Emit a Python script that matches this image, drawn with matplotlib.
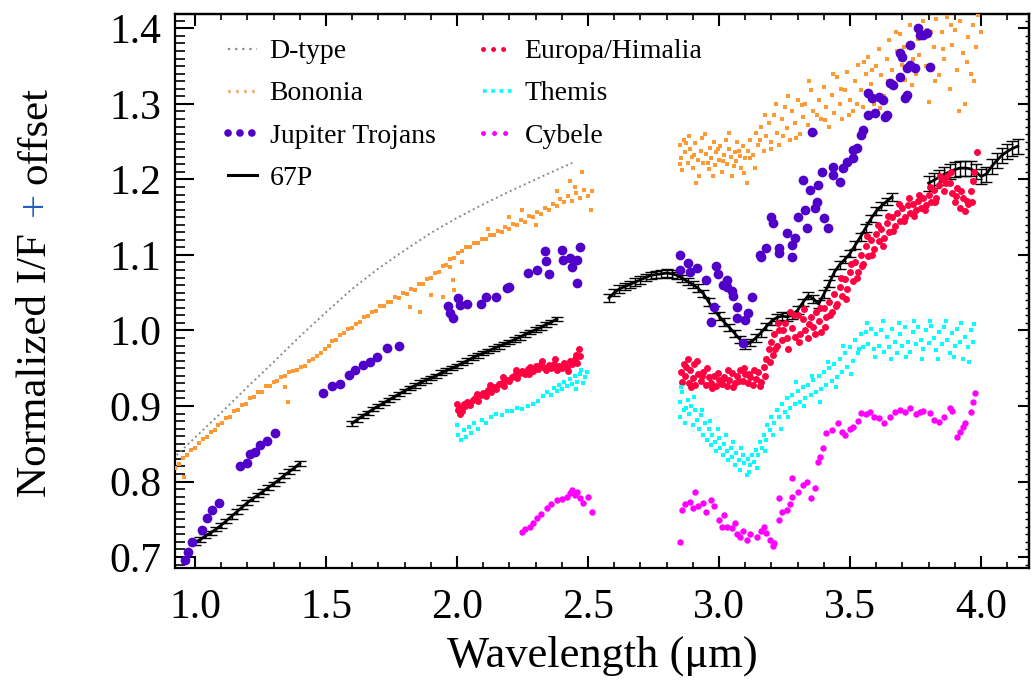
import matplotlib
matplotlib.use("Agg")
import matplotlib.pyplot as plt
from matplotlib.lines import Line2D
from matplotlib.ticker import MultipleLocator, FormatStrFormatter

plt.rcParams['font.family'] = ['Liberation Serif', 'DejaVu Serif']

# ---- data (wavelength in micron, I/F + offset) ----
dtype_wl = [0.93, 1.00, 1.10, 1.20, 1.30, 1.40, 1.50, 1.60, 1.70, 1.80, 1.90, 2.00, 2.10, 2.20, 2.30, 2.44]
dtype_val = [0.835, 0.858, 0.891, 0.925, 0.958, 0.992, 1.024, 1.055, 1.082, 1.106, 1.129, 1.149, 1.167, 1.184, 1.200, 1.222]

bononia_pts = [
    (0.925, .818), (0.940, .823), (0.955, .831), (0.970, .835), (0.985, .842), (1.000, .845), (1.015, .851),
    (1.030, .856), (1.045, .859), (1.060, .866), (1.075, .868), (1.090, .875), (1.105, .877), (1.120, .884),
    (1.135, .886), (1.150, .893), (1.165, .895), (1.180, .901), (1.195, .903), (1.210, .911), (1.225, .912),
    (1.240, .918), (1.255, .919), (1.270, .926), (1.285, .927), (1.300, .932), (1.315, .933), (1.330, .939),
    (1.345, .940), (1.360, .945), (1.375, .946), (1.390, .948), (1.405, .952), (1.420, .953), (1.435, .960),
    (1.450, .962), (1.465, .966), (1.480, .970), (1.495, .976), (1.510, .979), (1.525, .986), (1.540, .988),
    (1.555, .994), (1.570, .996), (1.585, 1.002), (1.600, 1.003), (1.615, 1.009), (1.630, 1.011), (1.645, 1.018),
    (1.660, 1.019), (1.675, 1.025), (1.690, 1.026), (1.705, 1.032), (1.720, 1.033), (1.735, 1.038), (1.750, 1.038),
    (1.765, 1.044), (1.780, 1.043), (1.795, 1.049), (1.810, 1.048), (1.825, 1.055), (1.840, 1.054), (1.855, 1.061),
    (1.870, 1.062), (1.885, 1.068), (1.900, 1.069), (1.915, 1.076), (1.930, 1.078), (1.945, 1.085), (1.960, 1.087),
    (1.975, 1.095), (1.990, 1.096), (2.005, 1.103), (2.020, 1.105), (2.035, 1.110), (2.050, 1.111), (2.065, 1.116),
    (2.080, 1.116), (2.095, 1.121), (2.110, 1.121), (2.125, 1.127), (2.140, 1.126), (2.155, 1.132), (2.170, 1.131),
    (2.185, 1.137), (2.200, 1.135), (2.215, 1.141), (2.230, 1.139), (2.245, 1.146), (2.260, 1.144), (2.275, 1.151),
    (2.290, 1.150), (2.305, 1.157), (2.320, 1.154), (2.335, 1.162), (2.350, 1.160), (2.365, 1.168), (2.380, 1.165),
    (2.395, 1.174), (2.410, 1.170), (2.425, 1.178), (2.440, 1.172), (2.455, 1.182), (2.470, 1.176), (2.485, 1.186),
    (2.500, 1.178), (2.515, 1.184),
    (0.960, .806), (1.343, .925), (1.355, .905), (1.820, 1.031), (1.860, 1.025), (1.900, 1.047), (1.947, 1.044),
    (1.985, 1.067), (1.973, 1.084), (1.990, 1.054), (2.477, 1.210), (2.510, 1.160), (2.430, 1.198), (2.450, 1.190),
    (2.380, 1.185), (2.200, 1.150), (2.300, 1.140), (2.120, 1.135), (2.020, 1.090), (2.250, 1.160),
    # long-wavelength part
    (2.850, 1.245), (2.855, 1.228), (2.860, 1.212), (2.865, 1.252), (2.870, 1.236), (2.880, 1.222), (2.885, 1.258),
    (2.890, 1.240), (2.900, 1.215), (2.905, 1.232), (2.910, 1.248), (2.920, 1.226), (2.925, 1.205), (2.930, 1.238),
    (2.940, 1.222), (2.945, 1.260), (2.950, 1.233), (2.960, 1.214), (2.965, 1.242), (2.970, 1.228), (2.980, 1.250),
    (2.985, 1.219), (2.990, 1.236), (3.000, 1.226), (3.005, 1.244), (3.010, 1.210), (3.020, 1.232), (3.025, 1.252),
    (3.030, 1.221), (3.040, 1.240), (3.045, 1.230), (3.050, 1.205), (3.060, 1.236), (3.065, 1.225), (3.070, 1.250),
    (3.080, 1.231), (3.085, 1.215), (3.090, 1.244), (3.100, 1.228), (3.105, 1.195), (3.110, 1.238), (3.120, 1.252),
    (3.130, 1.232), (3.140, 1.262), (3.150, 1.245), (3.160, 1.270), (3.170, 1.238), (3.180, 1.258), (3.190, 1.275),
    (3.200, 1.250), (3.210, 1.285), (3.220, 1.262), (3.230, 1.246), (3.240, 1.280), (3.250, 1.296), (3.260, 1.268),
    (3.270, 1.252), (3.280, 1.290), (3.290, 1.275), (3.300, 1.305), (3.310, 1.260), (3.320, 1.282), (3.330, 1.300),
    (3.340, 1.272), (3.350, 1.318), (3.360, 1.290), (3.370, 1.262), (3.380, 1.305), (3.390, 1.280), (3.400, 1.322),
    (3.410, 1.296), (3.420, 1.270), (3.430, 1.312), (3.440, 1.288), (3.450, 1.335), (3.460, 1.300), (3.470, 1.280),
    (3.480, 1.318), (3.490, 1.342), (3.500, 1.305), (3.510, 1.290), (3.520, 1.330), (3.530, 1.352), (3.540, 1.318),
    (3.550, 1.296), (3.560, 1.340), (3.570, 1.362), (3.580, 1.326), (3.590, 1.300), (3.600, 1.350), (3.610, 1.372),
    (3.620, 1.338), (3.630, 1.310), (3.640, 1.360), (3.650, 1.384), (3.660, 1.345), (3.670, 1.325), (3.680, 1.370),
    (3.690, 1.392), (3.700, 1.352), (3.710, 1.332), (3.720, 1.378), (3.730, 1.404), (3.740, 1.360), (3.750, 1.340),
    (3.760, 1.386), (3.780, 1.410), (3.790, 1.350), (3.800, 1.302), (3.810, 1.395), (3.820, 1.375), (3.830, 1.412),
    (3.840, 1.338), (3.850, 1.395), (3.860, 1.360), (3.870, 1.415), (3.880, 1.320), (3.890, 1.378), (3.900, 1.398),
    (3.910, 1.345), (3.920, 1.410), (3.930, 1.368), (3.940, 1.300), (3.950, 1.388), (3.960, 1.340), (3.970, 1.405),
    (3.980, 1.375), (3.990, 1.418), (4.000, 1.395),
    (2.853, 1.220), (2.873, 1.248), (2.897, 1.230), (2.913, 1.195), (2.937, 1.255), (2.957, 1.222), (2.977, 1.205),
    (2.997, 1.240), (3.017, 1.225), (3.037, 1.262), (3.057, 1.218), (3.077, 1.238), (3.097, 1.208), (3.117, 1.228),
    (3.137, 1.215), (3.157, 1.252), (3.177, 1.285), (3.197, 1.240), (3.217, 1.300), (3.245, 1.258), (3.265, 1.310),
    (3.295, 1.255), (3.315, 1.298), (3.345, 1.330), (3.375, 1.285), (3.405, 1.278), (3.435, 1.340), (3.465, 1.320),
    (3.495, 1.285), (3.525, 1.300), (3.555, 1.355), (3.585, 1.345), (3.615, 1.295), (3.645, 1.330), (3.675, 1.395),
    (3.705, 1.375), (3.735, 1.325), (3.765, 1.365), (3.795, 1.398), (3.825, 1.330), (3.855, 1.372), (3.885, 1.405),
    (3.915, 1.290), (3.945, 1.355), (3.975, 1.330),
]

trojans_pts = [
    (0.962, .696), (0.973, .707), (0.990, .720), (1.026, .736), (1.045, .752), (1.065, .762), (1.092, .771),
    (1.172, .821), (1.200, .825), (1.210, .836), (1.230, .839), (1.248, .849), (1.275, .854), (1.305, .864),
    (1.490, .917), (1.525, .927), (1.553, .929), (1.588, .941), (1.610, .948), (1.640, .954), (1.668, .958),
    (1.695, .965), (1.733, .977), (1.778, .979),
    (1.966, 1.033), (1.973, 1.023), (1.985, 1.016), (2.004, 1.043), (2.010, 1.034), (2.040, 1.035), (2.090, 1.035),
    (2.110, 1.044), (2.150, 1.044), (2.190, 1.056), (2.200, 1.058),
    (2.270, 1.076), (2.305, 1.080), (2.336, 1.105), (2.340, 1.092), (2.350, 1.075), (2.400, 1.107), (2.404, 1.093),
    (2.430, 1.096), (2.440, 1.084), (2.460, 1.093), (2.470, 1.111), (2.460, 1.063),
    (2.850, 1.100), (2.850, 1.080), (2.880, 1.089), (2.890, 1.078), (2.915, 1.083), (2.950, 1.067), (2.990, 1.085),
    (2.996, 1.075), (3.015, 1.060), (3.030, 1.067), (3.030, 1.058), (3.050, 1.052), (3.055, 1.045), (2.980, 1.031),
    (2.970, 1.011), (3.070, 1.031), (3.070, 1.016), (3.100, 1.014), (3.110, 1.023), (3.125, 1.044), (3.090, 0.983),
    (3.156, 1.100), (3.160, 1.097), (3.180, 1.109), (3.200, 1.150), (3.206, 1.142), (3.230, 1.109), (3.230, 1.103),
    (3.260, 1.129), (3.280, 1.113), (3.290, 1.122), (3.280, 1.097), (3.300, 1.150), (3.330, 1.160), (3.336, 1.136),
    (3.374, 1.170), (3.366, 1.162), (3.400, 1.149), (3.416, 1.136), (3.320, 1.199), (3.347, 1.186), (3.378, 1.193),
    (3.393, 1.210), (3.435, 1.217), (3.435, 1.206), (3.460, 1.197), (3.473, 1.215), (3.490, 1.223), (3.510, 1.228),
    (3.512, 1.239), (3.527, 1.242), (3.355, 1.263), (3.540, 1.259), (3.550, 1.266), (3.568, 1.285), (3.595, 1.288),
    (3.633, 1.283), (3.640, 1.285), (3.570, 1.314), (3.584, 1.308), (3.610, 1.309), (3.626, 1.305), (3.653, 1.328),
    (3.664, 1.325), (3.690, 1.336), (3.710, 1.308), (3.716, 1.312), (3.716, 1.348), (3.730, 1.352), (3.748, 1.348),
    (3.690, 1.368), (3.700, 1.362), (3.730, 1.378), (3.760, 1.401), (3.767, 1.391), (3.780, 1.391), (3.794, 1.394),
    (3.805, 1.349),
]

# 67P, four spectral segments with their error sizes
p67_seg1 = [(1.00, .719), (1.02, .723), (1.04, .728), (1.06, .732), (1.08, .737), (1.10, .742), (1.12, .748),
            (1.14, .754), (1.16, .760), (1.18, .766), (1.20, .772), (1.22, .777), (1.24, .782), (1.26, .787),
            (1.28, .792), (1.30, .797), (1.32, .802), (1.34, .808), (1.36, .813), (1.38, .818), (1.40, .824)]
p67_seg2 = [(1.60, .877), (1.62, .882), (1.64, .887), (1.66, .891), (1.68, .896), (1.70, .900), (1.72, .904),
            (1.74, .908), (1.76, .912), (1.78, .916), (1.80, .920), (1.82, .924), (1.84, .927), (1.86, .931),
            (1.88, .934), (1.90, .937), (1.92, .940), (1.94, .944), (1.96, .947), (1.98, .950), (2.00, .953),
            (2.02, .957), (2.04, .960), (2.06, .964), (2.08, .967), (2.10, .970), (2.12, .973), (2.14, .976),
            (2.16, .979), (2.18, .982), (2.20, .985), (2.22, .988), (2.24, .991), (2.26, .995), (2.28, .998),
            (2.30, 1.001), (2.32, 1.004), (2.34, 1.008), (2.36, 1.011), (2.38, 1.015)]
p67_seg3 = [(2.58, 1.043), (2.60, 1.050), (2.62, 1.055), (2.64, 1.058), (2.66, 1.061), (2.68, 1.064), (2.70, 1.067),
            (2.72, 1.070), (2.74, 1.073), (2.76, 1.074), (2.78, 1.075), (2.80, 1.076), (2.82, 1.075), (2.84, 1.073),
            (2.86, 1.069), (2.88, 1.065), (2.90, 1.061), (2.92, 1.056), (2.94, 1.049), (2.96, 1.038), (2.98, 1.028),
            (3.00, 1.019), (3.02, 1.011), (3.04, 1.004), (3.06, 0.996), (3.08, 0.988), (3.10, 0.981), (3.12, 0.984),
            (3.14, 0.990), (3.16, 0.997), (3.18, 1.005), (3.20, 1.012), (3.22, 1.017), (3.24, 1.019), (3.26, 1.018),
            (3.28, 1.020), (3.30, 1.027), (3.32, 1.037), (3.34, 1.046), (3.36, 1.042), (3.38, 1.035), (3.40, 1.048),
            (3.42, 1.062), (3.44, 1.077), (3.46, 1.087), (3.48, 1.094), (3.50, 1.102), (3.52, 1.113), (3.54, 1.124),
            (3.56, 1.136), (3.58, 1.148), (3.60, 1.158), (3.62, 1.165), (3.64, 1.171), (3.66, 1.177)]
p67_seg4 = [(3.80, 1.195), (3.82, 1.199), (3.84, 1.203), (3.86, 1.207), (3.88, 1.210), (3.90, 1.213), (3.92, 1.215),
            (3.94, 1.215), (3.96, 1.214), (3.98, 1.210), (4.00, 1.204), (4.02, 1.207), (4.04, 1.217), (4.06, 1.225),
            (4.08, 1.232), (4.10, 1.237), (4.12, 1.241), (4.14, 1.244)]
p67_errors = [0.003, 0.003, 0.005, 0.010]

europa_pts = [
    (2.000, .902), (2.005, .895), (2.010, .890), (2.015, .898), (2.020, .893), (2.030, .900), (2.040, .905),
    (2.050, .901), (2.060, .908), (2.070, .910), (2.080, .906), (2.090, .914), (2.100, .917), (2.110, .913),
    (2.120, .921), (2.130, .919), (2.140, .925), (2.150, .922), (2.160, .929), (2.170, .931), (2.180, .927),
    (2.190, .935), (2.200, .933), (2.210, .939), (2.220, .941), (2.230, .937), (2.240, .944), (2.250, .946),
    (2.260, .942), (2.270, .949), (2.280, .951), (2.290, .946), (2.300, .953), (2.310, .949), (2.320, .955),
    (2.330, .951), (2.340, .947), (2.350, .954), (2.360, .950), (2.370, .956), (2.380, .948), (2.390, .953),
    (2.400, .950), (2.410, .957), (2.420, .952), (2.430, .959), (2.440, .955), (2.450, .962), (2.460, .957),
    (2.470, .966), (2.465, .975),
    (2.855, .945), (2.860, .932), (2.865, .955), (2.870, .940), (2.880, .962), (2.885, .930), (2.890, .948),
    (2.900, .937), (2.905, .955), (2.910, .928), (2.920, .942), (2.930, .933), (2.940, .945), (2.950, .928),
    (2.960, .938), (2.970, .930), (2.980, .940), (2.990, .926), (3.000, .934), (3.010, .929), (3.020, .939),
    (3.030, .927), (3.040, .935), (3.050, .944), (3.060, .930), (3.070, .940), (3.080, .947), (3.090, .933),
    (3.100, .943), (3.110, .930), (3.120, .938), (3.130, .928), (3.140, .936), (3.150, .945), (3.160, .932),
    (3.170, .952), (3.180, .962), (3.190, .975), (3.200, .985), (3.205, .968), (3.210, .995), (3.220, .980),
    (3.230, 1.000), (3.240, .987), (3.250, 1.010), (3.260, .990), (3.270, 1.025), (3.280, 1.003), (3.290, .992),
    (3.300, 1.020), (3.310, .995), (3.320, 1.015), (3.330, 1.000), (3.340, .990), (3.350, 1.018), (3.360, 1.005),
    (3.370, 1.025), (3.380, 1.012), (3.390, .998), (3.400, 1.030), (3.410, 1.018), (3.420, 1.038), (3.430, 1.025),
    (3.440, 1.048), (3.450, 1.035), (3.460, 1.058), (3.470, 1.045), (3.480, 1.068), (3.490, 1.055), (3.500, 1.078),
    (3.510, 1.065), (3.520, 1.090), (3.530, 1.078), (3.540, 1.100), (3.550, 1.088), (3.560, 1.112), (3.570, 1.098),
    (3.580, 1.120), (3.590, 1.108), (3.600, 1.128), (3.610, 1.118), (3.620, 1.135), (3.630, 1.122), (3.640, 1.142),
    (3.650, 1.130), (3.660, 1.150), (3.670, 1.138), (3.680, 1.156), (3.690, 1.145), (3.700, 1.162), (3.710, 1.150),
    (3.720, 1.166), (3.730, 1.155), (3.740, 1.168), (3.750, 1.160), (3.760, 1.172), (3.770, 1.162), (3.780, 1.176),
    (3.790, 1.166), (3.800, 1.180), (3.810, 1.170), (3.820, 1.186), (3.830, 1.176), (3.840, 1.192), (3.850, 1.200),
    (3.860, 1.185), (3.870, 1.205), (3.880, 1.195), (3.890, 1.182), (3.900, 1.170), (3.910, 1.188), (3.920, 1.162),
    (3.930, 1.175), (3.940, 1.158), (3.950, 1.168), (3.960, 1.185), (3.970, 1.198), (3.975, 1.210), (3.985, 1.236),
    (2.875, .952), (2.895, .925), (2.915, .960), (2.935, .940), (2.955, .950), (2.975, .924), (2.995, .944),
    (3.015, .936), (3.035, .948), (3.055, .925), (3.075, .933), (3.095, .950), (3.115, .942), (3.135, .948),
    (3.155, .926), (3.175, .940), (3.195, .958), (3.215, .975), (3.225, 1.010), (3.245, 1.000), (3.265, .975),
    (3.285, 1.020), (3.305, .985), (3.325, 1.028), (3.345, 1.008), (3.365, .995), (3.385, 1.030), (3.405, 1.005),
    (3.425, 1.020), (3.445, 1.032), (3.465, 1.070), (3.485, 1.042), (3.505, 1.088), (3.525, 1.070), (3.545, 1.085),
    (3.565, 1.125), (3.585, 1.100), (3.605, 1.140), (3.625, 1.112), (3.645, 1.152), (3.665, 1.132), (3.685, 1.168),
    (3.705, 1.145), (3.725, 1.175), (3.745, 1.152), (3.765, 1.180), (3.785, 1.160), (3.805, 1.190), (3.825, 1.170),
    (3.845, 1.205), (3.865, 1.195), (3.885, 1.210), (3.905, 1.178), (3.925, 1.185), (3.945, 1.172), (3.965, 1.170),
    (2.025, .903), (2.075, .916), (2.125, .928), (2.175, .938), (2.225, .948), (2.275, .942), (2.325, .960),
    (2.375, .962), (2.425, .946), (2.455, .968),
]

themis_pts = [
    (2.000, .875), (2.005, .862), (2.015, .855), (2.025, .868), (2.035, .859), (2.045, .872), (2.055, .864),
    (2.065, .878), (2.080, .870), (2.095, .882), (2.110, .878), (2.130, .886), (2.150, .890), (2.170, .888),
    (2.190, .894), (2.210, .893), (2.230, .897), (2.250, .896), (2.270, .900), (2.290, .903), (2.310, .907),
    (2.330, .913), (2.345, .918), (2.360, .915), (2.370, .924), (2.380, .920), (2.390, .928), (2.400, .922),
    (2.410, .932), (2.420, .926), (2.430, .936), (2.440, .929), (2.450, .940), (2.460, .932), (2.470, .943),
    (2.480, .930), (2.490, .938), (2.475, .948), (2.455, .922), (2.495, .945),
    (2.850, .905), (2.852, .885), (2.858, .918), (2.865, .895), (2.870, .878), (2.880, .908), (2.885, .890),
    (2.895, .900), (2.900, .875), (2.910, .895), (2.915, .882), (2.925, .870), (2.930, .888), (2.940, .862),
    (2.945, .878), (2.955, .855), (2.960, .870), (2.970, .848), (2.975, .862), (2.985, .852), (2.990, .840),
    (3.000, .858), (3.005, .845), (3.015, .835), (3.020, .850), (3.030, .840), (3.035, .828), (3.045, .845),
    (3.050, .832), (3.060, .822), (3.065, .838), (3.075, .828), (3.080, .815), (3.090, .835), (3.095, .825),
    (3.105, .808), (3.110, .830), (3.120, .822), (3.125, .835), (3.135, .826), (3.140, .842), (3.150, .835),
    (3.155, .852), (3.165, .845), (3.170, .862), (3.180, .855), (3.185, .875), (3.195, .868), (3.200, .885),
    (3.210, .878), (3.220, .895), (3.230, .885), (3.240, .902), (3.250, .892), (3.260, .910), (3.270, .898),
    (3.280, .915), (3.290, .902), (3.300, .920), (3.310, .905), (3.320, .925), (3.330, .910), (3.340, .928),
    (3.350, .915), (3.360, .935), (3.370, .918), (3.380, .940), (3.390, .922), (3.400, .945), (3.410, .928),
    (3.420, .950), (3.430, .933), (3.440, .955), (3.450, .938), (3.460, .962), (3.470, .945), (3.480, .970),
    (3.490, .952), (3.500, .978), (3.510, .960), (3.520, .988), (3.530, .970), (3.540, .995), (3.550, .978),
    (3.560, .998), (3.570, .982), (3.580, 1.002), (3.590, .975), (3.600, .995), (3.610, .980), (3.620, 1.000),
    (3.630, .972), (3.640, .992), (3.650, .978), (3.660, 1.002), (3.670, .985), (3.680, .970), (3.690, .995),
    (3.700, .980), (3.710, 1.004), (3.720, .985), (3.730, .972), (3.740, .998), (3.750, .982), (3.760, 1.005),
    (3.770, .988), (3.780, .975), (3.790, 1.000), (3.800, .984), (3.810, 1.006), (3.820, .990), (3.830, .974),
    (3.840, .998), (3.850, .982), (3.860, 1.004), (3.870, .988), (3.880, .970), (3.890, .996), (3.900, .980),
    (3.910, 1.002), (3.920, .985), (3.930, .962), (3.940, .992), (3.950, .978), (3.960, 1.000), (3.970, .985),
    (3.975, 1.008),
    (2.855, .925), (2.875, .898), (2.905, .912), (2.935, .895), (2.965, .880), (2.995, .870), (3.025, .862),
    (3.055, .852), (3.085, .845), (3.115, .812), (3.145, .818), (3.175, .840), (3.205, .862), (3.235, .870),
    (3.265, .885), (3.295, .932), (3.325, .900), (3.355, .940), (3.385, .905), (3.415, .958), (3.445, .925),
    (3.475, .980), (3.505, .942), (3.535, .975), (3.565, 1.010), (3.595, .965), (3.625, 1.012), (3.655, .962),
    (3.685, 1.010), (3.715, .965), (3.745, 1.012), (3.775, .962), (3.805, 1.012), (3.835, .962), (3.865, 1.012),
    (3.895, .965), (3.925, 1.010), (3.955, .958),
]

cybele_pts = [
    (2.248, .733), (2.260, .737), (2.280, .740), (2.290, .745), (2.305, .752), (2.320, .757), (2.344, .765),
    (2.360, .770), (2.380, .775), (2.400, .777), (2.420, .780), (2.430, .785), (2.440, .789), (2.450, .782),
    (2.460, .786), (2.470, .778), (2.480, .772), (2.500, .780), (2.515, .760),
    (2.850, .720), (2.860, .762), (2.870, .770), (2.890, .773), (2.900, .765), (2.910, .786), (2.920, .768),
    (2.940, .771), (2.950, .760), (2.970, .775), (2.980, .767), (3.000, .749), (3.010, .740), (3.020, .756),
    (3.030, .740), (3.050, .738), (3.060, .745), (3.070, .731), (3.080, .727), (3.090, .735), (3.107, .723),
    (3.120, .730), (3.145, .727), (3.160, .735), (3.170, .740), (3.180, .732), (3.195, .723), (3.206, .714),
    (3.210, .718), (3.230, .749), (3.240, .760), (3.230, .778), (3.260, .762), (3.270, .770), (3.280, .780),
    (3.280, .805), (3.300, .786), (3.320, .795), (3.336, .800), (3.350, .778), (3.366, .791), (3.378, .826),
    (3.385, .832), (3.397, .844), (3.410, .864), (3.430, .868), (3.455, .877), (3.470, .866), (3.480, .861),
    (3.500, .869), (3.510, .872), (3.530, .880), (3.540, .891), (3.560, .890), (3.576, .892), (3.590, .886),
    (3.610, .884), (3.630, .878), (3.653, .886), (3.670, .892), (3.690, .895), (3.710, .892), (3.730, .897),
    (3.750, .890), (3.767, .892), (3.780, .893), (3.805, .891), (3.820, .882), (3.840, .879), (3.860, .885),
    (3.880, .897), (3.890, .893), (3.910, .859), (3.920, .865), (3.930, .872), (3.940, .878), (3.960, .892),
    (3.977, .917), (3.970, .905),
]

x_ticks = [1.0, 1.5, 2.0, 2.5, 3.0, 3.5, 4.0]
y_ticks = [0.7, 0.8, 0.9, 1.0, 1.1, 1.2, 1.3, 1.4]

c_dtype = '#8a8a8a'
c_bon = '#ff9933'
c_jt = '#5000c8'
c_eur = '#ff0040'
c_the = '#00ffff'
c_cyb = '#ff00ff'

fig = plt.figure(figsize=(10.31, 6.88), dpi=100)
ax = fig.add_axes([175 / 1031, 1 - 568 / 688, (1029 - 175) / 1031, (568 - 14) / 688])

# 67P with error bars
for seg, err in zip([p67_seg1, p67_seg2, p67_seg3, p67_seg4], p67_errors):
    sx, sy = zip(*seg)
    ax.errorbar(sx, sy, yerr=err, color='black', lw=2.0, elinewidth=1.0,
                capsize=4, capthick=1.0, zorder=2)

ax.plot(dtype_wl, dtype_val, ls=':', lw=1.4, color=c_dtype, zorder=3)

bx, by = zip(*bononia_pts)
ax.plot(bx, by, ls='none', marker='s', ms=2.3, mew=0, color=c_bon, zorder=3)

ex, ey = zip(*europa_pts)
ax.plot(ex, ey, ls='none', marker='o', ms=5.0, mew=0, color=c_eur, zorder=3)

tx, ty = zip(*themis_pts)
ax.plot(tx, ty, ls='none', marker='s', ms=3.2, mew=0, color=c_the, zorder=3)

cx, cy = zip(*cybele_pts)
ax.plot(cx, cy, ls='none', marker='o', ms=4.6, mew=0, color=c_cyb, zorder=3)

jx, jy = zip(*trojans_pts)
ax.plot(jx, jy, ls='none', marker='o', ms=7.0, mew=0, color=c_jt, zorder=4)

ax.set_xlim(0.924, 4.183)
ax.set_ylim(0.6855, 1.419)

# ticks: inward on all sides, longer on the left
ax.set_xticks(x_ticks)
ax.set_yticks(y_ticks)
ax.xaxis.set_minor_locator(MultipleLocator(0.1))
ax.yaxis.set_minor_locator(MultipleLocator(0.01))
ax.xaxis.set_major_formatter(FormatStrFormatter('%.1f'))
ax.yaxis.set_major_formatter(FormatStrFormatter('%.1f'))
ax.tick_params(axis='x', which='major', direction='in', length=8.5, width=1.5, labelsize=30, pad=15)
ax.tick_params(axis='x', which='minor', direction='in', length=4, width=1.2)
ax.tick_params(axis='y', which='major', direction='in', length=13.5, width=1.5, labelsize=30, pad=10)
ax.tick_params(axis='y', which='minor', direction='in', length=7, width=1.2)
for sp in ax.spines.values():
    sp.set_linewidth(1.6)

top = ax.secondary_xaxis('top')
top.set_xticks(x_ticks)
top.xaxis.set_minor_locator(MultipleLocator(0.1))
top.tick_params(which='major', direction='in', length=8.5, width=1.5, labeltop=False)
top.tick_params(which='minor', direction='in', length=4.5, width=1.2)
top.spines['top'].set_linewidth(1.6)

right = ax.secondary_yaxis('right')
right.set_yticks(y_ticks)
right.yaxis.set_minor_locator(MultipleLocator(0.01))
right.tick_params(which='major', direction='in', length=8, width=1.5, labelright=False)
right.tick_params(which='minor', direction='in', length=3, width=1.0)
right.spines['right'].set_linewidth(1.6)

ax.set_xlabel('Wavelength (\u03bcm)', fontsize=32, labelpad=6)

# y label in three pieces: the "+" is blue
t1 = fig.text(55 / 1031, 1 - 497 / 688, 'Normalized I/F', rotation=90, fontsize=31,
              ha='right', va='bottom')
ann2 = ax.annotate('+', xy=(1, 1), xycoords=t1, xytext=(0, 12), textcoords='offset points',
                   rotation=90, fontsize=31, color='#1f5fbf', ha='right', va='bottom',
                   annotation_clip=False)
ann3 = ax.annotate('offset', xy=(1, 1), xycoords=ann2, xytext=(0, 6), textcoords='offset points',
                   rotation=90, fontsize=31, ha='right', va='bottom', annotation_clip=False)

handles = [
    Line2D([0], [0], color=c_dtype, lw=1.6, ls=(0, (1, 2.2))),
    Line2D([0], [0], color=c_bon, lw=2.4, ls=(0, (0.6, 1.8))),
    Line2D([0], [0], color=c_jt, lw=5.5, ls=(0, (0.01, 1.55)), dash_capstyle='round'),
    Line2D([0], [0], color='black', lw=2.2),
    Line2D([0], [0], color=c_eur, lw=3.6, ls=(0, (0.01, 2.0)), dash_capstyle='round'),
    Line2D([0], [0], color=c_the, lw=2.6, ls=(0, (1, 1.3))),
    Line2D([0], [0], color=c_cyb, lw=3.6, ls=(0, (0.01, 2.2)), dash_capstyle='round'),
]
labels = ['D-type', 'Bononia', 'Jupiter Trojans', '67P', 'Europa/Himalia', 'Themis', 'Cybele']
ax.legend(handles, labels, loc='upper left', bbox_to_anchor=(0.062, 0.955), ncol=2, frameon=False,
          fontsize=20, handlelength=1.05, handletextpad=0.45, columnspacing=1.7, labelspacing=0.6,
          borderpad=0, borderaxespad=0)

fig.savefig('out.png', dpi=100)
